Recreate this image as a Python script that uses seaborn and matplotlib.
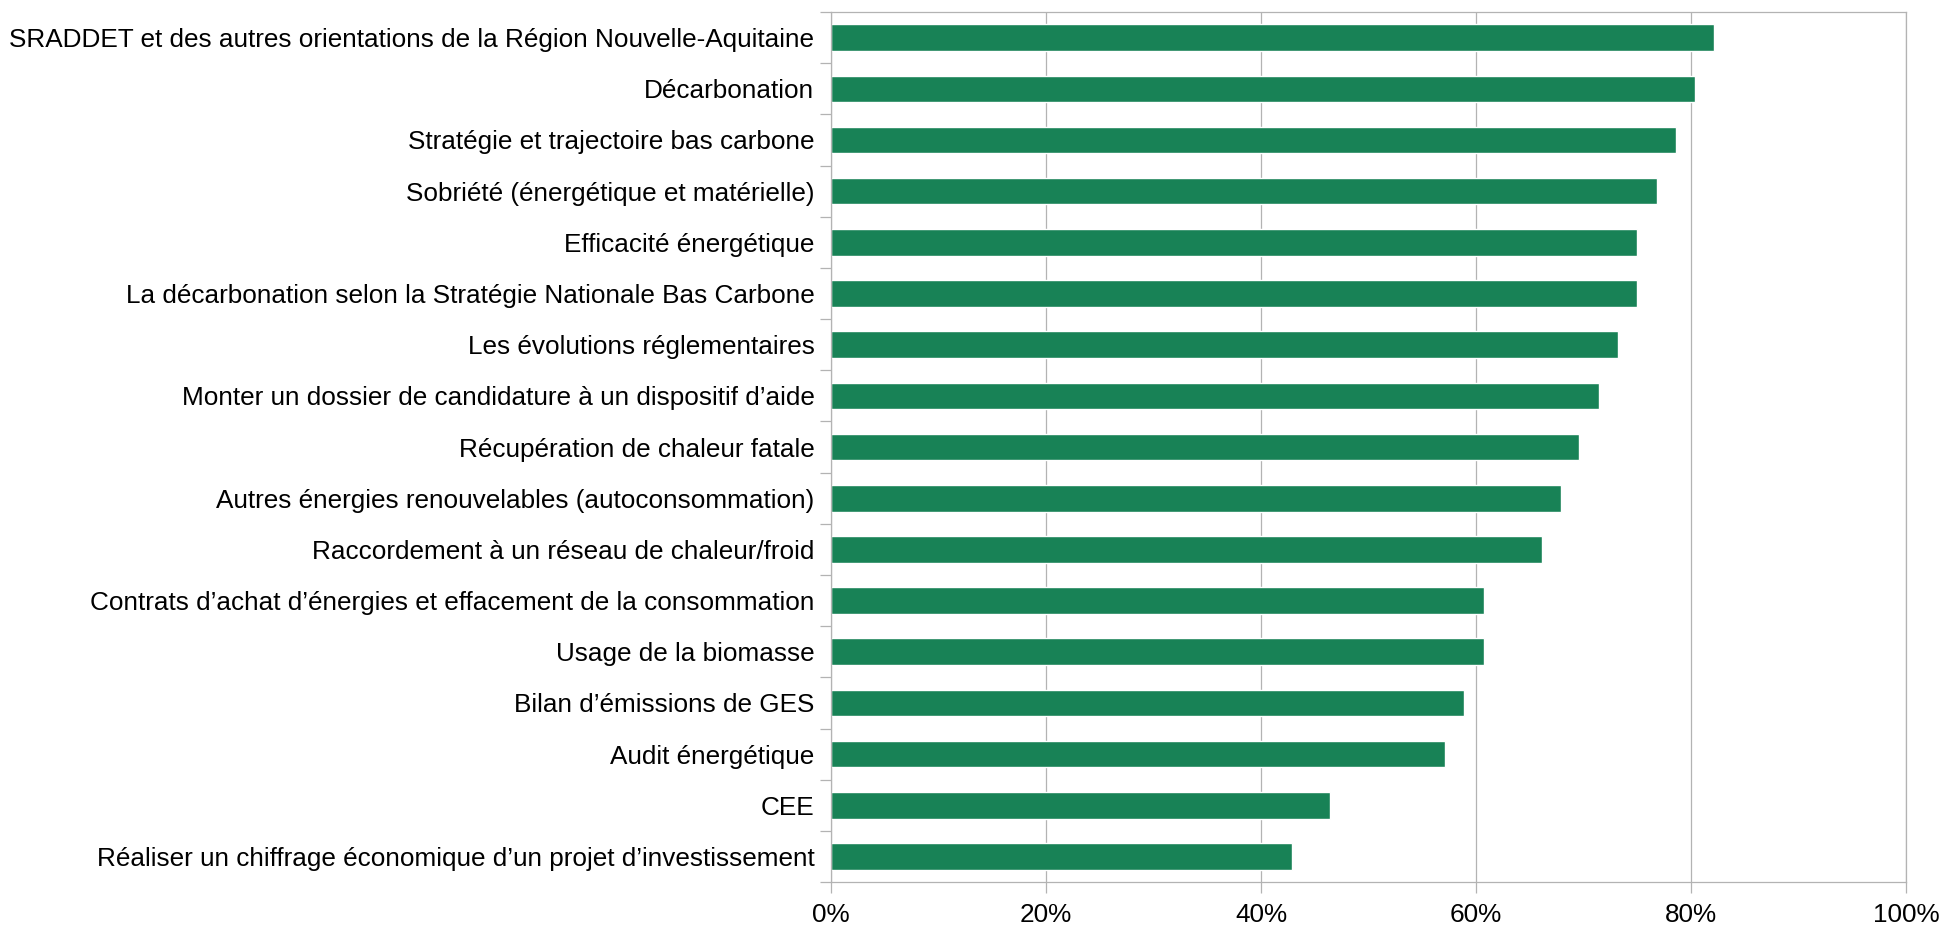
import matplotlib
matplotlib.use("Agg")
import matplotlib.pyplot as plt
import matplotlib.ticker as mticker
import seaborn as sns
import pandas as pd

categories = [
    "SRADDET et des autres orientations de la Région Nouvelle-Aquitaine",
    "Décarbonation",
    "Stratégie et trajectoire bas carbone",
    "Sobriété (énergétique et matérielle)",
    "Efficacité énergétique",
    "La décarbonation selon la Stratégie Nationale Bas Carbone",
    "Les évolutions réglementaires",
    "Monter un dossier de candidature à un dispositif d’aide",
    "Récupération de chaleur fatale",
    "Autres énergies renouvelables (autoconsommation)",
    "Raccordement à un réseau de chaleur/froid",
    "Contrats d’achat d’énergies et effacement de la consommation",
    "Usage de la biomasse",
    "Bilan d’émissions de GES",
    "Audit énergétique",
    "CEE",
    "Réaliser un chiffrage économique d’un projet d’investissement",
]
values = [82.1, 80.4, 78.6, 76.8, 75.0, 75.0, 73.2, 71.4, 69.6, 67.9,
          66.1, 60.7, 60.7, 58.9, 57.1, 46.4, 42.9]
x_ticks = [0, 20, 40, 60, 80, 100]

df = pd.DataFrame({"theme": categories, "pct": values})

sns.set_style("white")
plt.rcParams["font.family"] = ["Liberation Sans", "DejaVu Sans"]

fig = plt.figure(figsize=(19.44, 9.27), dpi=100)
ax = fig.add_axes([0.4275, 0.0485, 0.553, 0.9385])

sns.barplot(data=df, y="theme", x="pct", orient="h", color="#188256",
            width=0.52, saturation=1, ax=ax)

ax.set_xlim(0, 100)
ax.set_ylim(len(categories) - 0.5, -0.5)
ax.set_xticks(x_ticks)
ax.xaxis.set_major_formatter(mticker.FuncFormatter(lambda v, p: f"{v:.0f}%"))
ax.grid(axis="x", color="#b3b3b3", linewidth=0.9)
ax.set_axisbelow(True)
ax.set_xlabel("")
ax.set_ylabel("")

for side in ["top", "right", "left", "bottom"]:
    ax.spines[side].set_visible(True)
    ax.spines[side].set_color("#b3b3b3")
    ax.spines[side].set_linewidth(0.9)

# tick marks sit between the categories
ax.set_yticks([i - 0.5 for i in range(len(categories) + 1)], minor=True)
ax.tick_params(axis="y", which="major", length=0, pad=12, labelsize=18.8, labelcolor="black")
ax.tick_params(axis="y", which="minor", length=8, width=0.9, color="#b3b3b3", direction="out", left=True)
ax.tick_params(axis="x", which="major", length=8, width=0.9, color="#b3b3b3", direction="out",
               bottom=True, labelsize=18.8, labelcolor="black", pad=7)

fig.savefig("out.png", dpi=100)
